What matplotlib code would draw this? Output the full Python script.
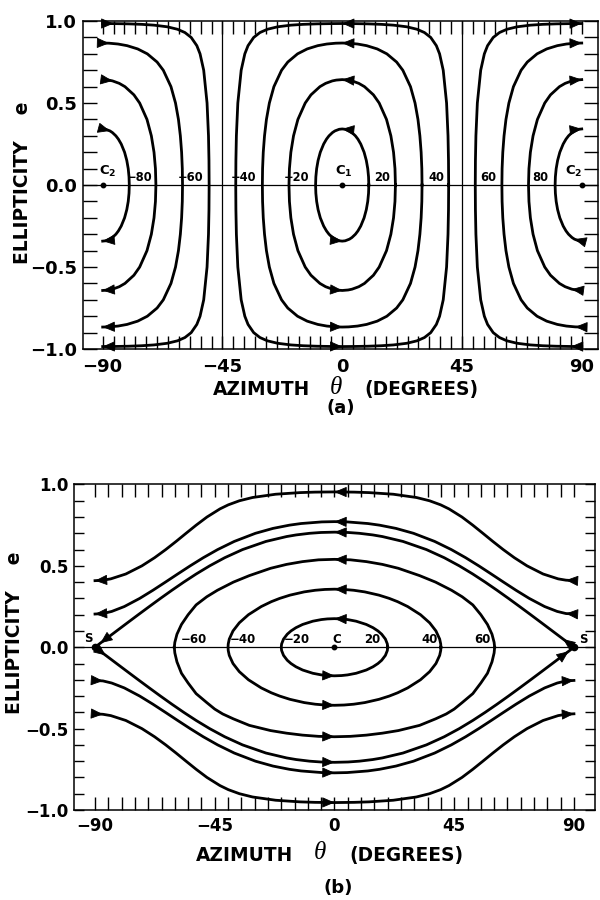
import numpy as np
import matplotlib
matplotlib.use("Agg")
import matplotlib.pyplot as plt

plt.rcParams['font.family'] = ['DejaVu Sans']
plt.rcParams['mathtext.fontset'] = 'dejavusans'

# ---------------- Panel (a) data ----------------
# quarter orbits around C1: (azimuth deg, ellipticity) from the e=0 crossing to the top
a_q10_th = [10.0, 9.90, 9.60, 9.06, 8.23, 6.97, 5.90, 4.96, 3.66, 2.73, 1.13, 0.0]
a_q10_e = [0.0, 0.05, 0.10, 0.15, 0.20, 0.25, 0.28, 0.30, 0.32, 0.33, 0.34, 0.342]
a_q20_th = [20.0, 19.83, 19.29, 18.29, 16.65, 13.9, 11.74, 8.37, 6.24, 3.71, 2.23, 0.0]
a_q20_e = [0.0, 0.10, 0.20, 0.30, 0.40, 0.50, 0.55, 0.60, 0.62, 0.635, 0.64, 0.643]
a_q30_th = [30.0, 29.92, 29.66, 29.19, 28.47, 27.37, 25.66, 22.78, 20.45, 16.78, 13.16, 9.17, 5.76, 2.41, 0.0]
a_q30_e = [0.0, 0.10, 0.20, 0.30, 0.40, 0.50, 0.60, 0.70, 0.75, 0.80, 0.83, 0.85, 0.86, 0.865, 0.866]
a_q40_th = [40.0, 39.94, 39.76, 39.22, 37.96, 36.59, 35.38, 33.26, 30.9, 28.1, 24.26, 19.3, 14.62, 9.5, 4.0, 0.0]
a_q40_e = [0.0, 0.15, 0.30, 0.50, 0.70, 0.80, 0.85, 0.90, 0.93, 0.95, 0.965, 0.975, 0.98, 0.983, 0.9845, 0.985]
A_SHAPES = [(a_q10_th, a_q10_e), (a_q20_th, a_q20_e), (a_q30_th, a_q30_e), (a_q40_th, a_q40_e)]

a_lab_text = ["\u221280", "\u221260", "\u221240", "\u221220", "20", "40", "60", "80"]
a_lab_th = [-76.0, -56.9, -36.9, -17.0, 14.8, 35.2, 54.9, 74.3]
a_centers_th = [-90, 0, 90]

# ---------------- Panel (b) data ----------------
b_o20_th = [20.0, 19.87, 19.15, 17.75, 16.35, 14.49, 11.96, 8.13, 4.93, 2.66, 0.0]
b_o20_e = [0.0, 0.02, 0.05, 0.08, 0.10, 0.12, 0.14, 0.16, 0.17, 0.174, 0.1756]
b_o40_th = [40.0, 39.93, 39.54, 38.14, 35.77, 32.32, 27.51, 23.72, 20.6, 16.74, 11.39, 7.24, 3.6, 0.0]
b_o40_e = [0.0, 0.02, 0.05, 0.10, 0.15, 0.20, 0.25, 0.28, 0.30, 0.32, 0.34, 0.35, 0.355, 0.3567]
b_o60t_th = [60.2, 60.0, 59.2, 57.5, 55.0, 52.0, 48.0, 44.0, 38.0, 32.0, 24.0, 18.0, 12.0, 6.0, 0.0]
b_o60t_e = [0.0, 0.03, 0.08, 0.14, 0.20, 0.26, 0.31, 0.35, 0.40, 0.44, 0.485, 0.509, 0.526, 0.537, 0.54]
b_o60b_th = [60.2, 60.0, 59.2, 57.5, 55.0, 52.0, 48.0, 45.0, 42.0, 38.0, 32.0, 24.0, 18.0, 12.0, 6.0, 0.0]
b_o60b_e = [0.0, -0.035, -0.09, -0.16, -0.22, -0.285, -0.34, -0.38, -0.41, -0.44, -0.48, -0.512,
            -0.528, -0.54, -0.5475, -0.55]
# separatrix through the saddles S
b_s_th = [90.0, 88.0, 85.95, 81.89, 77.82, 73.73, 69.59, 65.4, 61.1, 56.65, 51.97, 46.91, 41.25,
          34.55, 25.75, 18.0, 14.4, 9.35, 5.12, 0.0]
b_s_e = [0.0, 0.025, 0.05, 0.10, 0.15, 0.20, 0.25, 0.30, 0.35, 0.40, 0.45, 0.50, 0.55,
         0.60, 0.65, 0.68, 0.69, 0.70, 0.705, 0.7071]
# outer trajectories
b_t2_th = [90.0, 87.0, 83.7, 78.98, 73.2, 68.23, 63.54, 58.92, 54.23, 49.31, 43.91, 37.67, 29.7,
           23.13, 16.95, 12.55, 4.78, 0.0]
b_t2_e = [0.204, 0.207, 0.22, 0.25, 0.30, 0.35, 0.40, 0.45, 0.50, 0.55, 0.60, 0.65, 0.70,
          0.73, 0.75, 0.76, 0.77, 0.7717]
b_t1_th = [90.0, 87.0, 84.08, 78.41, 72.37, 67.61, 63.42, 59.53, 55.78, 51.98, 47.92, 43.03, 39.89,
           35.7, 30.78, 22.12, 13.0, 7.35, 0.0]
b_t1_e = [0.409, 0.412, 0.42, 0.45, 0.50, 0.55, 0.60, 0.65, 0.70, 0.75, 0.80, 0.85, 0.875,
          0.90, 0.92, 0.94, 0.95, 0.953, 0.9543]

b_lab_text = ["\u221260", "\u221240", "\u221220", "20", "40", "60"]
b_lab_th = [-53.0, -34.6, -14.3, 14.2, 35.6, 55.6]
b_saddle_th = [-90, 90]
b_center_th = [0]

x_major = [-90, -45, 0, 45, 90]
x_major_lab = ["\u221290", "\u221245", "0", "45", "90"]
y_major = [-1.0, -0.5, 0.0, 0.5, 1.0]
y_major_lab = ["\u22121.0", "\u22120.5", "0.0", "0.5", "1.0"]

LW = 2.0
BOLD = dict(fontweight='bold')


def head(ax, tip, tail):
    ax.annotate("", xy=tip, xytext=tail, zorder=6,
                arrowprops=dict(arrowstyle="-|>,head_length=0.7,head_width=0.3",
                                mutation_scale=11, color="black", lw=0.6,
                                shrinkA=0, shrinkB=0))


def closed(th, e):
    th = np.asarray(th); e = np.asarray(e)
    return (np.r_[th, -th[::-1], -th, th[::-1]], np.r_[e, e[::-1], -e, -e[::-1]])


def style_axes(ax, xminor, xlen, ylen, fs, xpad, ypad, xlim):
    ax.set_xlim(*xlim)
    ax.set_ylim(-1.0, 1.0)
    ax.set_xticks(x_major)
    ax.set_xticklabels(x_major_lab, fontsize=fs, **BOLD)
    ax.set_xticks(xminor, minor=True)
    ax.set_yticks(y_major)
    ax.set_yticklabels(y_major_lab, fontsize=fs, **BOLD)
    ax.set_yticks(np.round(np.arange(-10, 11) * 0.1, 2), minor=True)
    ax.tick_params(axis='x', which='both', direction='in', top=True, bottom=True,
                   length=xlen, width=1.0, pad=xpad)
    ax.tick_params(axis='y', which='both', direction='in', left=True, right=True,
                   length=ylen, width=1.0, pad=ypad)
    for s in ax.spines.values():
        s.set_linewidth(1.1)


fig = plt.figure(figsize=(6, 9), dpi=100)

# ======================= panel (a) =======================
axa = fig.add_axes([0.1383, 0.6122, 0.8583, 0.3644])
style_axes(axa, np.arange(45) * 45 / 11 - 90, 9.5, 10, 13, 6.8, 4.3, (-97.4, 96.1))
axa.axhline(0, color='k', lw=0.9)
axa.axvline(-45, color='k', lw=0.9)
axa.axvline(45, color='k', lw=0.9)

for th, e in A_SHAPES:
    th = np.asarray(th); e = np.asarray(e)
    cx, cy = closed(th, e)
    axa.plot(cx, cy, color='k', lw=LW, solid_joinstyle='round')
    head(axa, (0, e[-1]), (th[-2], e[-2]))
    head(axa, (0, -e[-1]), (-th[-2], -e[-2]))
    k = max(i for i in range(len(th)) if th[i] >= 2.4)
    # C2 arc on the right
    rx = 90 - np.r_[th[::-1], th]
    ry = np.r_[-e[::-1], e]
    axa.plot(rx, ry, color='k', lw=LW, solid_joinstyle='round')
    head(axa, (90, e[-1]), (90 - th[-2], e[-2]))
    head(axa, (90 - th[k], -e[k]), (90, -e[-1]))
    # C2 arc on the left
    lx = -90 + np.r_[th[::-1], th]
    ly = np.r_[e[::-1], -e]
    axa.plot(lx, ly, color='k', lw=LW, solid_joinstyle='round')
    head(axa, (-90 + th[k], e[k]), (-90, e[-1]))
    head(axa, (-90, -e[-1]), (-90 + th[-2], -e[-2]))

axa.plot(a_centers_th, [0] * len(a_centers_th), 'o', color='k', ms=3.2, zorder=7)
for t, x in zip(a_lab_text, a_lab_th):
    axa.text(x, 0.045, t, ha='center', va='center', fontsize=8.3, **BOLD)
axa.text(0.5, 0.085, r'$\mathbf{C_1}$', ha='center', va='center', fontsize=9.5)
axa.text(-88.0, 0.085, r'$\mathbf{C_2}$', ha='center', va='center', fontsize=9.5)
axa.text(87.0, 0.085, r'$\mathbf{C_2}$', ha='center', va='center', fontsize=9.5)

# ======================= panel (b) =======================
axb = fig.add_axes([0.1233, 0.1, 0.8683, 0.3617])
style_axes(axb, np.arange(-90, 91, 5), 9.5, 7.5, 12, 4.9, 4.1, (-97.9, 97.9))
axb.axhline(0, color='k', lw=0.9)

for th, e in [(b_o20_th, b_o20_e), (b_o40_th, b_o40_e)]:
    th = np.asarray(th); e = np.asarray(e)
    cx, cy = closed(th, e)
    axb.plot(cx, cy, color='k', lw=LW, solid_joinstyle='round')
    head(axb, (0, e[-1]), (th[-2], e[-2]))
    head(axb, (0, -e[-1]), (-th[-2], -e[-2]))

tt = np.asarray(b_o60t_th); te = np.asarray(b_o60t_e)
bt = np.asarray(b_o60b_th); be = np.asarray(b_o60b_e)
axb.plot(np.r_[tt, -tt[::-1]], np.r_[te, te[::-1]], color='k', lw=LW, solid_joinstyle='round')
axb.plot(np.r_[bt, -bt[::-1]], np.r_[be, be[::-1]], color='k', lw=LW, solid_joinstyle='round')
head(axb, (0, te[-1]), (tt[-2], te[-2]))
head(axb, (0, be[-1]), (-bt[-2], be[-2]))

for name, th, e in [("S", b_s_th, b_s_e), ("T", b_t2_th, b_t2_e), ("T", b_t1_th, b_t1_e)]:
    th = np.asarray(th); e = np.asarray(e)
    fx = np.r_[th, -th[::-1]]
    fy = np.r_[e, e[::-1]]
    axb.plot(fx, fy, color='k', lw=LW, solid_joinstyle='round')
    axb.plot(fx, -fy, color='k', lw=LW, solid_joinstyle='round')
    head(axb, (0, e[-1]), (th[-2], e[-2]))
    head(axb, (0, -e[-1]), (-th[-2], -e[-2]))
    if name == "S":
        head(axb, (th[2], e[2]), (th[1], e[1]))
        head(axb, (th[1], -e[1]), (th[2], -e[2]))
        head(axb, (-th[1], e[1]), (-th[2], e[2]))
        head(axb, (-th[2], -e[2]), (-th[1], -e[1]))
    else:
        head(axb, (th[1], e[1]), (th[0], e[0]))
        head(axb, (-th[0], e[0]), (-th[1], e[1]))
        head(axb, (-th[1], -e[1]), (-th[0], -e[0]))
        head(axb, (th[0], -e[0]), (th[1], -e[1]))

axb.plot(b_saddle_th, [0] * len(b_saddle_th), 'o', color='k', ms=4.5, zorder=7)
axb.plot(b_center_th, [0] * len(b_center_th), 'o', color='k', ms=3.2, zorder=7)
for t, x in zip(b_lab_text, b_lab_th):
    axb.text(x, 0.045, t, ha='center', va='center', fontsize=8.5, **BOLD)
axb.text(0.8, 0.05, "C", ha='center', va='center', fontsize=8.5, **BOLD)
axb.text(-92.5, 0.055, "S", ha='center', va='center', fontsize=8.5, **BOLD)
axb.text(93.5, 0.05, "S", ha='center', va='center', fontsize=8.5, **BOLD)

# ======================= labels =======================
LAB = 13.4
TH_FONT = dict(family=['Liberation Serif', 'DejaVu Serif'], style='italic', fontsize=18)

fig.text(0.0367, 0.7967, "ELLIPTICITY    e", rotation=90, ha='center', va='center',
         fontsize=LAB, **BOLD)
fig.text(0.4358, 0.5667, "AZIMUTH", ha='center', va='center', fontsize=LAB, **BOLD)
fig.text(0.5600, 0.5690, "\u03b8", ha='center', va='center', **TH_FONT)
fig.text(0.7030, 0.5667, "(DEGREES)", ha='center', va='center', fontsize=LAB, **BOLD)
fig.text(0.5683, 0.5467, "(a)", ha='center', va='center', fontsize=13, **BOLD)

fig.text(0.025, 0.2967, "ELLIPTICITY    e", rotation=90, ha='center', va='center',
         fontsize=LAB, **BOLD)
fig.text(0.4075, 0.0494, "AZIMUTH", ha='center', va='center', fontsize=LAB, **BOLD)
fig.text(0.5333, 0.0517, "\u03b8", ha='center', va='center', **TH_FONT)
fig.text(0.6767, 0.0494, "(DEGREES)", ha='center', va='center', fontsize=LAB, **BOLD)
fig.text(0.5633, 0.0133, "(b)", ha='center', va='center', fontsize=13, **BOLD)

fig.savefig("out.png", dpi=100)
